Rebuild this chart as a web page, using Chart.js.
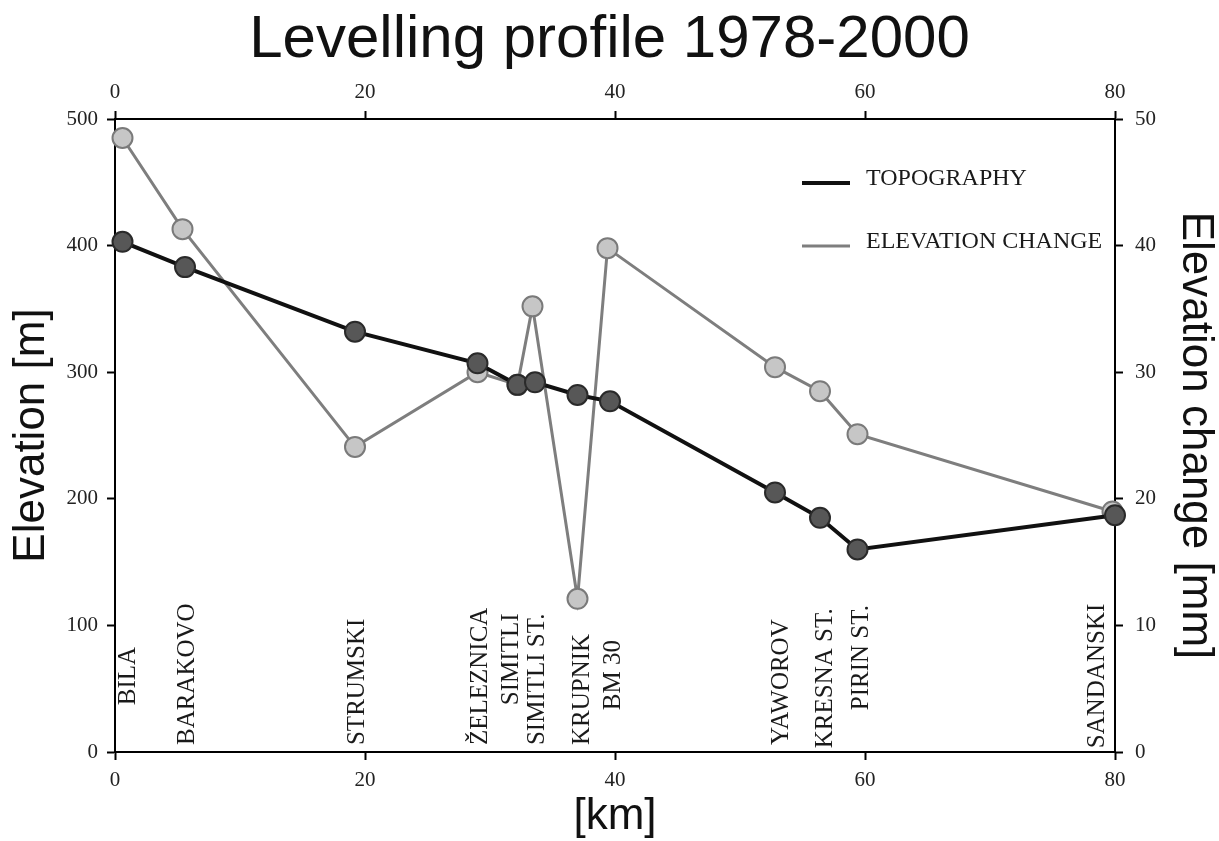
<!DOCTYPE html>
<html lang="en">
<head>
    <meta charset="UTF-8">
    <title>Levelling profile 1978-2000</title>
    <script src="https://cdn.jsdelivr.net/npm/chart.js"></script>
    <style>
        body { margin: 0; background: #fff; }
        canvas { display: block; }
    </style>
</head>
<body>
    <canvas id="myChart" width="1219" height="841"></canvas>
    <script>
        // Topography (left axis, m)
        const kmTopo = [0.6, 5.6, 19.2, 29.0, 32.2, 33.6, 37.0, 39.6, 52.8, 56.4, 59.4, 80.0];
        const elevTopo = [403, 383, 332, 307, 290, 292, 282, 277, 205, 185, 160, 187];

        // Elevation change (right axis, mm)
        const kmChange = [0.6, 5.4, 19.2, 29.0, 32.2, 33.4, 37.0, 39.4, 52.8, 56.4, 59.4, 79.8];
        const mmChange = [48.5, 41.3, 24.1, 30.0, 29.0, 35.2, 12.1, 39.8, 30.4, 28.5, 25.1, 19.0];

        // Station names, their km and the elevation (m) where the label starts
        const stationNames = ['BILA', 'BARAKOVO', 'STRUMSKI', 'ŽELEZNICA', 'SIMITLI', 'SIMITLI ST.',
            'KRUPNIK', 'BM 30', 'YAWOROV', 'KRESNA ST.', 'PIRIN ST.', 'SANDANSKI'];
        const stationKm = [1.1, 5.8, 19.4, 29.2, 31.7, 33.8, 37.4, 39.9, 53.3, 56.8, 59.7, 78.6];
        const stationBase = [37, 5.5, 5.5, 5.5, 37, 5.5, 5.5, 33, 5.5, 3, 33, 3];

        const kmTicks = [0, 20, 40, 60, 80];

        const toPoints = (xs, ys) => xs.map((x, i) => ({ x: x, y: ys[i] }));

        // station names written upwards inside the plot
        const stationLabels = {
            id: 'stationLabels',
            afterDatasetsDraw(chart) {
                const { ctx, scales } = chart;
                ctx.save();
                ctx.font = '25px "Liberation Serif", serif';
                ctx.fillStyle = '#1a1a1a';
                ctx.textAlign = 'left';
                ctx.textBaseline = 'middle';
                stationNames.forEach((name, i) => {
                    const px = scales.x.getPixelForValue(stationKm[i]);
                    const py = scales.y.getPixelForValue(stationBase[i]);
                    ctx.save();
                    ctx.translate(px, py);
                    ctx.rotate(-Math.PI / 2);
                    ctx.fillText(name, 0, 0);
                    ctx.restore();
                });
                ctx.restore();
            }
        };

        // legend in the upper right corner of the plot
        const boxLegend = {
            id: 'boxLegend',
            afterDraw(chart) {
                const { ctx, chartArea } = chart;
                const x0 = chartArea.right - 313;
                const rows = [chartArea.top + 60, chartArea.top + 123];
                ctx.save();
                ctx.font = '24px "Liberation Serif", serif';
                ctx.fillStyle = '#1a1a1a';
                ctx.textBaseline = 'middle';
                chart.data.datasets.forEach((ds, i) => {
                    const y = rows[i];
                    ctx.strokeStyle = ds.borderColor;
                    ctx.lineWidth = ds.borderWidth;
                    ctx.beginPath();
                    ctx.moveTo(x0, y + 4);
                    ctx.lineTo(x0 + 48, y + 4);
                    ctx.stroke();
                    ctx.fillText(ds.label, x0 + 64, y);
                });
                ctx.restore();
            }
        };

        const tickFont = { family: '"Liberation Serif", serif', size: 21 };
        const titleFont = { family: '"Liberation Sans", Arial, sans-serif', size: 44, lineHeight: 1 };

        function kmAxis(position, fitHeight, padding) {
            return {
                type: 'linear',
                position: position,
                min: 0,
                max: 80,
                afterBuildTicks: s => { s.ticks = kmTicks.map(v => ({ value: v })); },
                afterFit: s => { s.height = fitHeight; },
                ticks: { font: tickFont, color: '#222', padding: padding, maxRotation: 0 },
                grid: { drawOnChartArea: false, tickLength: 8, tickWidth: 2, tickColor: '#000' },
                border: { display: true, color: '#000', width: 2 }
            };
        }

        const ctx = document.getElementById('myChart').getContext('2d');
        new Chart(ctx, {
            type: 'line',
            data: {
                datasets: [
                    {
                        label: 'TOPOGRAPHY',
                        data: toPoints(kmTopo, elevTopo),
                        xAxisID: 'x',
                        yAxisID: 'y',
                        borderColor: '#111',
                        borderWidth: 4,
                        pointRadius: 10,
                        pointBackgroundColor: '#575757',
                        pointBorderColor: '#2a2a2a',
                        pointBorderWidth: 2,
                        clip: false,
                        tension: 0
                    },
                    {
                        label: 'ELEVATION CHANGE',
                        data: toPoints(kmChange, mmChange),
                        xAxisID: 'x',
                        yAxisID: 'y2',
                        borderColor: '#7e7e7e',
                        borderWidth: 3,
                        pointRadius: 10,
                        pointBackgroundColor: '#c6c6c6',
                        pointBorderColor: '#7a7a7a',
                        pointBorderWidth: 2,
                        clip: false,
                        tension: 0
                    }
                ]
            },
            options: {
                responsive: false,
                animation: false,
                devicePixelRatio: 1,
                layout: { padding: 0 },
                plugins: {
                    legend: { display: false },
                    tooltip: { enabled: false },
                    title: {
                        display: true,
                        text: 'Levelling profile 1978-2000',
                        color: '#111',
                        font: { family: '"Liberation Sans", Arial, sans-serif', size: 60, weight: 'normal', lineHeight: 1 },
                        padding: { top: 10, bottom: 0 }
                    }
                },
                scales: {
                    x: Object.assign(kmAxis('bottom', 89, 8), {
                        title: { display: true, text: '[km]', color: '#111', font: titleFont, padding: { top: 0, bottom: 2 } }
                    }),
                    x2: kmAxis('top', 49, 6),
                    y: {
                        position: 'left',
                        min: 0,
                        max: 500,
                        afterFit: s => { s.width = 115; },
                        ticks: { stepSize: 100, font: tickFont, color: '#222', padding: 9 },
                        grid: { drawOnChartArea: false, tickLength: 8, tickWidth: 2, tickColor: '#000' },
                        border: { display: true, color: '#000', width: 2 },
                        title: { display: true, text: 'Elevation [m]', color: '#111', font: titleFont, padding: { top: 10, bottom: 0 } }
                    },
                    y2: {
                        position: 'right',
                        min: 0,
                        max: 50,
                        afterFit: s => { s.width = 104; },
                        ticks: { stepSize: 10, font: tickFont, color: '#222', padding: 12 },
                        grid: { drawOnChartArea: false, tickLength: 8, tickWidth: 2, tickColor: '#000' },
                        border: { display: true, color: '#000', width: 2 },
                        title: { display: true, text: 'Elevation change [mm]', color: '#111', font: titleFont, padding: { top: 2, bottom: 0 } }
                    }
                }
            },
            plugins: [stationLabels, boxLegend]
        });
    </script>
</body>
</html>
